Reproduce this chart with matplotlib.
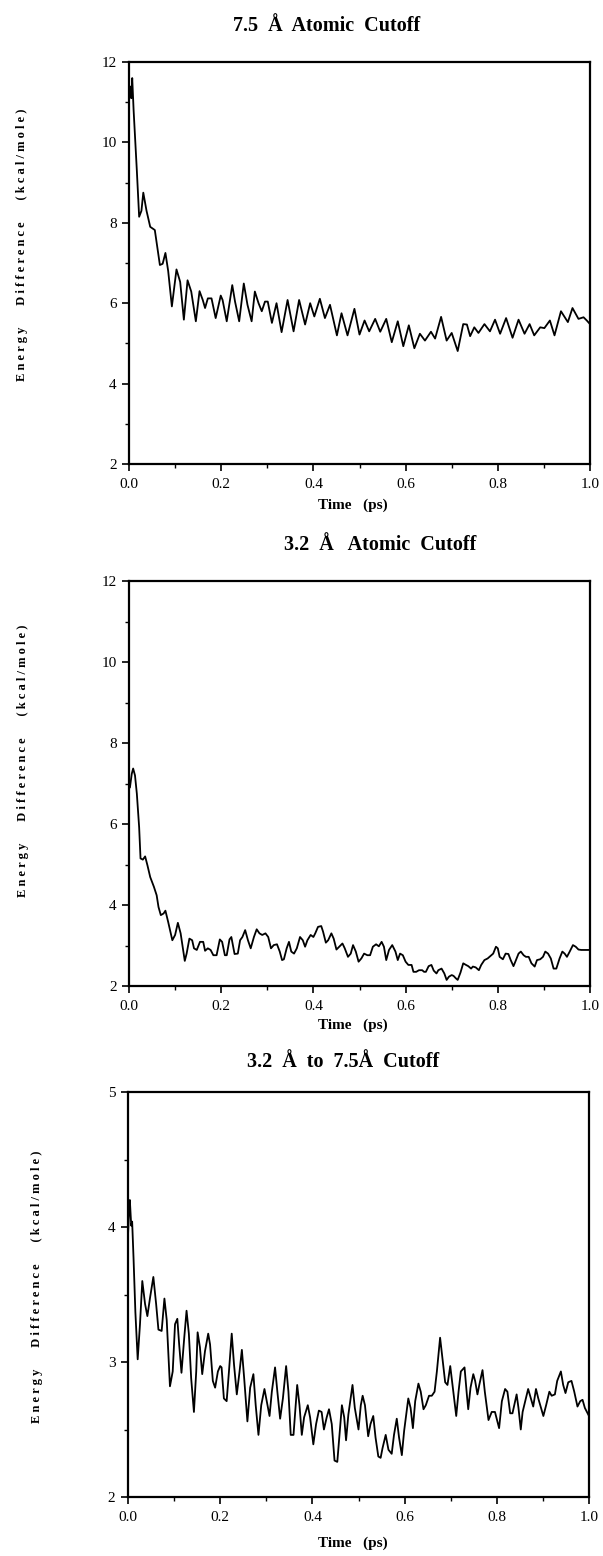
import numpy as np
import matplotlib
matplotlib.use("Agg")
import matplotlib.pyplot as plt
from matplotlib.ticker import MultipleLocator

plt.rcParams['font.family'] = ['Liberation Serif', 'DejaVu Serif']

# ---- data (time in ps, energy difference in kcal/mole) ----
t_75 = [0.000, 0.003, 0.005, 0.007, 0.010, 0.017, 0.022, 0.027, 0.031, 0.038,
        0.046, 0.056, 0.067, 0.073, 0.079, 0.085, 0.093, 0.103, 0.111, 0.119,
        0.127, 0.135, 0.145, 0.153, 0.160, 0.165, 0.171, 0.179, 0.188, 0.199,
        0.203, 0.212, 0.224, 0.230, 0.239, 0.249, 0.257, 0.266, 0.273, 0.281,
        0.288, 0.295, 0.301, 0.310, 0.320, 0.331, 0.344, 0.357, 0.369, 0.382,
        0.393, 0.402, 0.414, 0.425, 0.436, 0.451, 0.461, 0.474, 0.489, 0.500,
        0.511, 0.521, 0.534, 0.545, 0.558, 0.570, 0.583, 0.595, 0.607, 0.619,
        0.631, 0.642, 0.655, 0.664, 0.677, 0.689, 0.700, 0.713, 0.725, 0.733,
        0.740, 0.749, 0.758, 0.771, 0.783, 0.794, 0.805, 0.818, 0.832, 0.845,
        0.858, 0.869, 0.879, 0.892, 0.901, 0.913, 0.923, 0.937, 0.952, 0.962,
        0.975, 0.986, 0.993, 1.000]
e_75 = [11.05, 11.39, 11.10, 11.60, 10.80, 9.30, 8.15, 8.30, 8.75, 8.30,
        7.90, 7.82, 6.95, 6.98, 7.25, 6.80, 5.92, 6.84, 6.53, 5.59,
        6.57, 6.29, 5.55, 6.30, 6.08, 5.88, 6.12, 6.12, 5.63, 6.19,
        6.08, 5.55, 6.45, 6.04, 5.55, 6.49, 5.96, 5.55, 6.29, 6.00,
        5.80, 6.04, 6.04, 5.51, 6.00, 5.28, 6.08, 5.30, 6.08, 5.47,
        6.00, 5.67, 6.11, 5.63, 5.96, 5.20, 5.75, 5.20, 5.86, 5.22,
        5.57, 5.30, 5.61, 5.29, 5.61, 5.03, 5.55, 4.93, 5.45, 4.88,
        5.24, 5.07, 5.29, 5.12, 5.66, 5.07, 5.26, 4.81, 5.48, 5.47,
        5.18, 5.40, 5.26, 5.48, 5.30, 5.59, 5.24, 5.63, 5.14, 5.59,
        5.24, 5.48, 5.20, 5.40, 5.38, 5.57, 5.20, 5.80, 5.53, 5.88,
        5.61, 5.65, 5.57, 5.48]

t_32 = [0.000, 0.002, 0.006, 0.009, 0.013, 0.017, 0.022, 0.025, 0.030, 0.035,
        0.040, 0.046, 0.054, 0.060, 0.064, 0.069, 0.075, 0.079, 0.085, 0.094,
        0.100, 0.106, 0.112, 0.121, 0.125, 0.131, 0.137, 0.141, 0.147, 0.154,
        0.161, 0.165, 0.171, 0.177, 0.183, 0.190, 0.197, 0.202, 0.208, 0.212,
        0.218, 0.222, 0.229, 0.236, 0.241, 0.246, 0.252, 0.258, 0.264, 0.271,
        0.277, 0.283, 0.289, 0.296, 0.302, 0.308, 0.314, 0.321, 0.327, 0.332,
        0.336, 0.342, 0.347, 0.352, 0.358, 0.364, 0.371, 0.377, 0.382, 0.387,
        0.394, 0.400, 0.404, 0.410, 0.417, 0.421, 0.427, 0.432, 0.439, 0.444,
        0.450, 0.456, 0.463, 0.468, 0.475, 0.481, 0.486, 0.492, 0.498, 0.504,
        0.510, 0.517, 0.523, 0.529, 0.536, 0.542, 0.548, 0.553, 0.558, 0.564,
        0.571, 0.578, 0.583, 0.588, 0.594, 0.600, 0.606, 0.613, 0.617, 0.623,
        0.629, 0.636, 0.640, 0.644, 0.650, 0.656, 0.661, 0.667, 0.671, 0.678,
        0.684, 0.689, 0.694, 0.700, 0.704, 0.709, 0.713, 0.719, 0.725, 0.731,
        0.736, 0.742, 0.746, 0.752, 0.759, 0.764, 0.771, 0.778, 0.784, 0.790,
        0.796, 0.800, 0.804, 0.811, 0.817, 0.823, 0.828, 0.834, 0.838, 0.845,
        0.850, 0.856, 0.861, 0.867, 0.873, 0.880, 0.885, 0.892, 0.898, 0.903,
        0.909, 0.915, 0.921, 0.927, 0.934, 0.940, 0.945, 0.950, 0.956, 0.963,
        0.969, 0.975, 0.981, 0.988, 1.000]
e_32 = [6.90, 6.90, 7.24, 7.37, 7.20, 6.75, 5.92, 5.15, 5.12, 5.20,
        4.98, 4.69, 4.45, 4.24, 3.95, 3.75, 3.79, 3.86, 3.58, 3.13,
        3.26, 3.56, 3.30, 2.62, 2.80, 3.17, 3.13, 2.93, 2.89, 3.09,
        3.09, 2.87, 2.93, 2.89, 2.76, 2.76, 3.15, 3.09, 2.76, 2.76,
        3.15, 3.21, 2.79, 2.80, 3.13, 3.21, 3.38, 3.13, 2.93, 3.21,
        3.40, 3.30, 3.26, 3.30, 3.21, 2.93, 3.01, 3.03, 2.85, 2.64,
        2.66, 2.93, 3.09, 2.85, 2.80, 2.93, 3.21, 3.13, 2.97, 3.13,
        3.26, 3.21, 3.30, 3.46, 3.48, 3.34, 3.07, 3.13, 3.30, 3.17,
        2.90, 2.97, 3.05, 2.93, 2.72, 2.80, 3.01, 2.85, 2.60, 2.68,
        2.80, 2.76, 2.76, 2.97, 3.03, 2.98, 3.09, 2.97, 2.64, 2.89,
        3.01, 2.85, 2.64, 2.80, 2.76, 2.60, 2.52, 2.52, 2.35, 2.35,
        2.39, 2.39, 2.35, 2.35, 2.49, 2.52, 2.38, 2.31, 2.39, 2.43,
        2.31, 2.15, 2.23, 2.27, 2.25, 2.19, 2.15, 2.33, 2.56, 2.52,
        2.49, 2.43, 2.48, 2.46, 2.39, 2.52, 2.64, 2.68, 2.74, 2.80,
        2.97, 2.93, 2.72, 2.66, 2.80, 2.79, 2.64, 2.49, 2.60, 2.80,
        2.85, 2.76, 2.72, 2.72, 2.56, 2.48, 2.64, 2.66, 2.72, 2.85,
        2.80, 2.68, 2.43, 2.43, 2.68, 2.85, 2.80, 2.72, 2.85, 3.01,
        2.97, 2.90, 2.89, 2.89, 2.89]

t_mix = [0.000, 0.002, 0.004, 0.007, 0.009, 0.012, 0.016, 0.021, 0.026, 0.031,
         0.037, 0.042, 0.048, 0.055, 0.061, 0.066, 0.073, 0.079, 0.084, 0.091,
         0.097, 0.102, 0.107, 0.111, 0.116, 0.122, 0.127, 0.132, 0.137, 0.143,
         0.148, 0.151, 0.156, 0.161, 0.167, 0.174, 0.178, 0.184, 0.189, 0.195,
         0.200, 0.203, 0.208, 0.214, 0.219, 0.225, 0.230, 0.236, 0.242, 0.247,
         0.252, 0.259, 0.265, 0.272, 0.277, 0.283, 0.289, 0.296, 0.301, 0.307,
         0.312, 0.319, 0.324, 0.330, 0.336, 0.343, 0.348, 0.353, 0.359, 0.367,
         0.372, 0.377, 0.382, 0.390, 0.395, 0.402, 0.408, 0.414, 0.420, 0.425,
         0.431, 0.436, 0.442, 0.448, 0.454, 0.458, 0.464, 0.469, 0.473, 0.478,
         0.487, 0.492, 0.500, 0.505, 0.509, 0.514, 0.521, 0.526, 0.532, 0.537,
         0.543, 0.548, 0.552, 0.559, 0.565, 0.572, 0.577, 0.583, 0.588, 0.594,
         0.599, 0.608, 0.613, 0.618, 0.623, 0.630, 0.635, 0.641, 0.646, 0.653,
         0.659, 0.665, 0.670, 0.677, 0.682, 0.688, 0.693, 0.699, 0.704, 0.712,
         0.717, 0.722, 0.730, 0.735, 0.738, 0.743, 0.749, 0.753, 0.758, 0.762,
         0.769, 0.774, 0.782, 0.789, 0.796, 0.805, 0.811, 0.818, 0.823, 0.829,
         0.834, 0.843, 0.847, 0.852, 0.856, 0.868, 0.874, 0.879, 0.885, 0.890,
         0.901, 0.907, 0.914, 0.919, 0.926, 0.931, 0.939, 0.944, 0.949, 0.955,
         0.962, 0.968, 0.975, 0.981, 0.986, 0.991, 1.000]
e_mix = [3.94, 4.09, 4.20, 4.01, 4.04, 3.77, 3.37, 3.02, 3.28, 3.60,
         3.43, 3.34, 3.48, 3.63, 3.43, 3.24, 3.23, 3.47, 3.31, 2.82,
         2.93, 3.28, 3.32, 3.13, 2.92, 3.18, 3.38, 3.21, 2.88, 2.63,
         2.93, 3.22, 3.11, 2.91, 3.08, 3.21, 3.13, 2.86, 2.81, 2.93,
         2.97, 2.96, 2.73, 2.71, 2.93, 3.21, 2.98, 2.76, 2.93, 3.09,
         2.88, 2.56, 2.81, 2.91, 2.68, 2.46, 2.68, 2.80, 2.71, 2.60,
         2.78, 2.96, 2.78, 2.58, 2.73, 2.97, 2.78, 2.46, 2.46, 2.83,
         2.68, 2.46, 2.59, 2.68, 2.59, 2.39, 2.54, 2.64, 2.63, 2.50,
         2.59, 2.65, 2.54, 2.27, 2.26, 2.43, 2.68, 2.59, 2.42, 2.61,
         2.83, 2.66, 2.50, 2.68, 2.75, 2.68, 2.45, 2.54, 2.60, 2.44,
         2.30, 2.29, 2.36, 2.46, 2.35, 2.32, 2.46, 2.58, 2.44, 2.31,
         2.49, 2.73, 2.66, 2.51, 2.71, 2.84, 2.78, 2.65, 2.68, 2.75,
         2.75, 2.78, 2.93, 3.18, 3.03, 2.85, 2.83, 2.97, 2.83, 2.60,
         2.78, 2.93, 2.96, 2.76, 2.65, 2.81, 2.91, 2.86, 2.76, 2.83,
         2.94, 2.78, 2.57, 2.63, 2.63, 2.51, 2.71, 2.80, 2.78, 2.62,
         2.62, 2.76, 2.66, 2.50, 2.63, 2.80, 2.73, 2.67, 2.80, 2.73,
         2.60, 2.68, 2.78, 2.75, 2.76, 2.86, 2.93, 2.83, 2.77, 2.85,
         2.86, 2.78, 2.67, 2.71, 2.72, 2.66, 2.60]

titles = ["7.5  \u00c5  Atomic  Cutoff",
          "3.2  \u00c5   Atomic  Cutoff",
          "3.2  \u00c5  to  7.5\u00c5  Cutoff"]
ylims = [(2, 12), (2, 12), (2, 5)]
ymajor = [2, 2, 1]
yminor = [1, 1, 0.5]

W, H = 603, 1556
fig = plt.figure(figsize=(W / 100, H / 100), dpi=100)

# axes boxes in pixels: left, right, top, bottom
boxes = [(129, 590, 62, 464), (129, 590, 581, 986), (128, 589, 1092, 1497)]
title_xy = [(327, 26), (380, 545), (343, 1062)]
xlab_y = [505, 1025, 1543]
ylab_xy = [(22, 245), (23, 761), (37, 1287)]

series = [(t_75, e_75), (t_32, e_32), (t_mix, e_mix)]

for i, (l, r, tp, b) in enumerate(boxes):
    ax = fig.add_axes([l / W, 1 - b / H, (r - l) / W, (b - tp) / H])
    t, e = series[i]
    ax.plot(t, e, color='black', lw=1.3)
    ax.set_xlim(0, 1)
    ax.set_ylim(*ylims[i])
    ax.xaxis.set_major_locator(MultipleLocator(0.2))
    ax.xaxis.set_minor_locator(MultipleLocator(0.1))
    ax.yaxis.set_major_locator(MultipleLocator(ymajor[i]))
    ax.yaxis.set_minor_locator(MultipleLocator(yminor[i]))
    ax.xaxis.set_major_formatter(plt.FuncFormatter(lambda v, p: f"{v:.1f}"))
    ax.tick_params(which='major', direction='out', length=5, width=1.2,
                   labelsize=11, pad=4)
    ax.tick_params(which='minor', direction='out', length=3, width=1.0)
    ax.tick_params(axis='x', labelsize=11, pad=5)
    for s in ax.spines.values():
        s.set_linewidth(1.6)
    fig.text(title_xy[i][0] / W, 1 - title_xy[i][1] / H, titles[i],
             ha='center', va='center', fontsize=14.5, fontweight='bold')
    fig.text(353 / W, 1 - xlab_y[i] / H, "Time   (ps)",
             ha='center', va='center', fontsize=11, fontweight='bold')
    fig.text(ylab_xy[i][0] / W, 1 - ylab_xy[i][1] / H,
             "E n e r g y       D i f f e r e n c e       ( k c a l / m o l e )",
             ha='center', va='center', rotation=90, fontsize=9, fontweight='bold')

fig.savefig("out.png", dpi=100)
